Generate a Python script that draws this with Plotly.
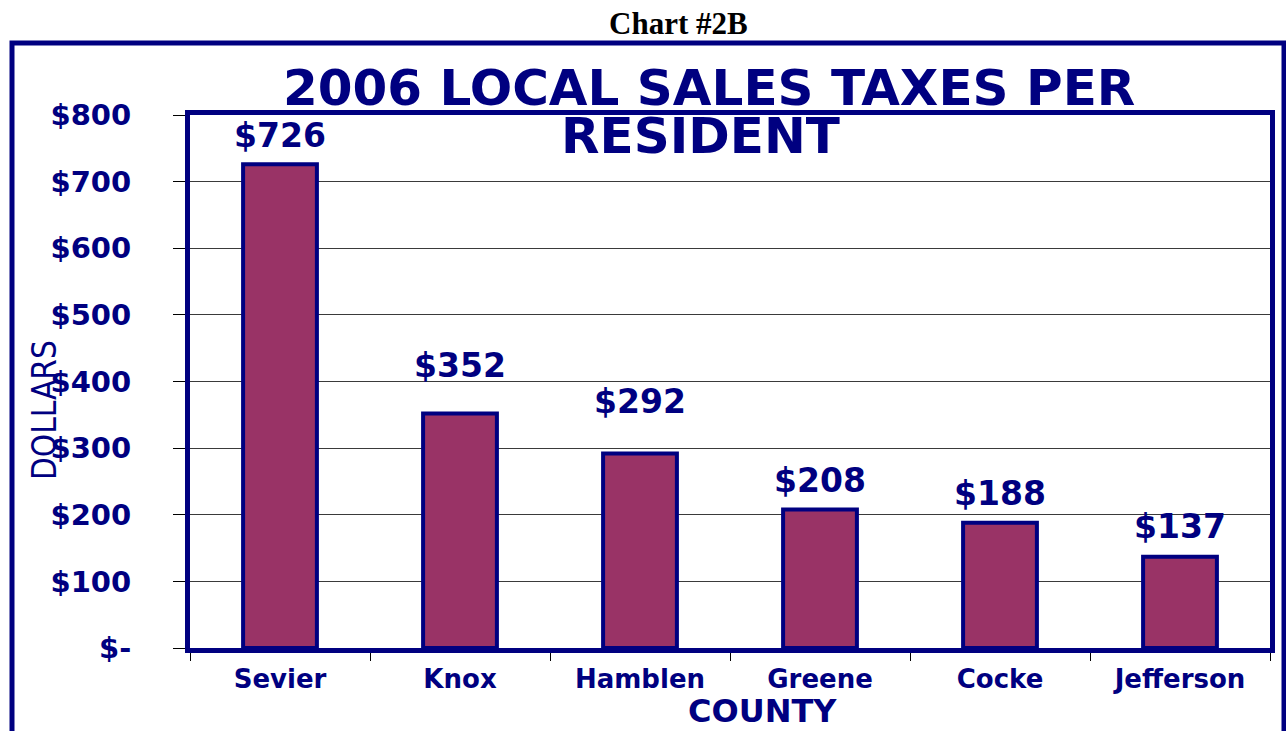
import plotly.graph_objects as go

counties = ["Sevier", "Knox", "Hamblen", "Greene", "Cocke", "Jefferson"]
taxes = [726, 352, 292, 208, 188, 137]
tick_vals = [0, 100, 200, 300, 400, 500, 600, 700, 800]
tick_text = ["$-", "$100", "$200", "$300", "$400", "$500", "$600", "$700", "$800"]

# vertical lift (px) of each value label above its bar, as placed in the original
label_lift_px = [27, 46, 50, 27, 27, 28]

NAVY = "#000080"
BAR = "#993366"
BOLD = "DejaVu Sans"

fig = go.Figure()
fig.add_trace(go.Bar(
    x=counties, y=taxes,
    marker=dict(color=BAR, line=dict(color=NAVY, width=4)),
    width=0.41,
    hoverinfo="skip",
))

W, H = 1286, 731
L, R, T, B = 190, 16, 115, 83
pw, ph = W - L - R, H - T - B

def px(x):
    return (x - L) / pw

def py(y):
    return (H - B - y) / ph

annotations = [
    dict(text="Chart #2B", xref="paper", yref="paper", x=px(678), y=py(23),
         xanchor="center", yanchor="middle", showarrow=False,
         font=dict(family="Liberation Serif", size=31, color="#000000", weight="bold")),
    dict(text="2006 LOCAL SALES TAXES PER", xref="paper", yref="paper", x=px(709), y=py(88),
         xanchor="center", yanchor="middle", showarrow=False,
         font=dict(family=BOLD, size=50, color=NAVY, weight="bold")),
    dict(text="RESIDENT", xref="paper", yref="paper", x=px(700), y=py(136),
         xanchor="center", yanchor="middle", showarrow=False,
         font=dict(family=BOLD, size=50, color=NAVY, weight="bold")),
    dict(text="DOLLARS", xref="paper", yref="paper", x=px(44), y=py(410),
         xanchor="center", yanchor="middle", showarrow=False, textangle=-90,
         font=dict(family="DejaVu Sans Condensed, Liberation Sans Narrow, Liberation Sans",
                   size=33, color=NAVY)),
    dict(text="COUNTY", xref="paper", yref="paper", x=px(762), y=py(731),
         xanchor="center", yanchor="bottom", showarrow=False, borderpad=0,
         font=dict(family=BOLD, size=32, color=NAVY, weight="bold")),
]
for c, v, lift in zip(counties, taxes, label_lift_px):
    annotations.append(dict(
        text="$" + str(v), x=c, y=v, xref="x", yref="y",
        xanchor="center", yanchor="middle", yshift=lift + 2, showarrow=False,
        font=dict(family=BOLD, size=33, color=NAVY, weight="bold"),
    ))

fig.update_layout(
    width=W, height=H,
    margin=dict(l=L, r=R, t=T, b=B, autoexpand=False),
    paper_bgcolor="white", plot_bgcolor="white",
    showlegend=False,
    xaxis=dict(
        type="category", automargin=False,
        showline=True, linecolor=NAVY, linewidth=5, mirror=True,
        ticks="outside", tickson="boundaries", ticklen=8, tickcolor="#000000", tickwidth=1,
        tickfont=dict(family=BOLD, size=26, color=NAVY, weight="bold"),
        ticklabelstandoff=4,
        showgrid=False,
        title=None,
    ),
    yaxis=dict(
        range=[0, 800], automargin=False,
        tickvals=tick_vals, ticktext=tick_text,
        showline=True, linecolor=NAVY, linewidth=5, mirror=True,
        ticks="outside", ticklen=12, tickcolor="#000000", tickwidth=1,
        tickfont=dict(family=BOLD, size=29, color=NAVY, weight="bold"),
        ticklabelstandoff=36,
        showgrid=True, gridcolor="#3a3a3a", gridwidth=1,
        zeroline=False,
        title=None,
    ),
    shapes=[dict(
        type="rect", xref="paper", yref="paper",
        x0=px(12), x1=px(1284), y0=py(760), y1=py(43),
        line=dict(color=NAVY, width=5), fillcolor="rgba(0,0,0,0)", layer="below",
    )],
    annotations=annotations,
)

fig.write_html(
    "out.html",
    config={"displayModeBar": False},
    post_script="document.body.style.margin='0';document.body.style.overflow='hidden';",
)
